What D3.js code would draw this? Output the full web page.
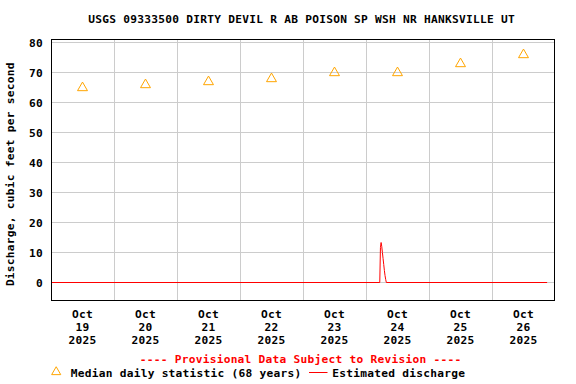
<!DOCTYPE html>
<html><head><meta charset="utf-8">
<script src="https://cdn.jsdelivr.net/npm/d3@7"></script>
<style>
html,body{margin:0;padding:0;background:#fff;}
text{font-family:"DejaVu Sans Mono","Liberation Mono",monospace;font-weight:bold;font-size:11.2px;letter-spacing:0.26px;}
</style></head>
<body><svg id="c" width="576" height="384"></svg>
<script>
const title = "USGS 09333500 DIRTY DEVIL R AB POISON SP WSH NR HANKSVILLE UT";
const yLabel = "Discharge, cubic feet per second";
const yTicks = [0, 10, 20, 30, 40, 50, 60, 70, 80];
const dayLabels = ["19", "20", "21", "22", "23", "24", "25", "26"];
const medianDays = ["2025-10-19T12:00Z","2025-10-20T12:00Z","2025-10-21T12:00Z","2025-10-22T12:00Z","2025-10-23T12:00Z","2025-10-24T12:00Z","2025-10-25T12:00Z","2025-10-26T12:00Z"];
const medianValues = [65, 66, 67, 68, 70, 70, 73, 76];
const dischargeTimes = ["2025-10-19T00:00Z","2025-10-24T05:15Z","2025-10-24T05:30Z","2025-10-24T05:45Z","2025-10-24T06:00Z","2025-10-24T06:15Z","2025-10-24T06:30Z","2025-10-24T06:45Z","2025-10-24T07:00Z","2025-10-24T07:15Z","2025-10-24T07:30Z","2025-10-24T07:45Z","2025-10-26T21:00Z"];
const dischargeValues = [0, 0, 11.8, 13.2, 12, 10, 8, 6, 4, 2.5, 1, 0, 0];

const svg = d3.select("#c");
const L = 51, R = 555, T = 39, B = 300;
const x = d3.scaleUtc().domain([new Date("2025-10-19T00:00Z"), new Date("2025-10-27T00:00Z")]).range([L, R]);
const y = d3.scaleLinear().domain([-6, 81]).range([B, T]);
const px = v => Math.round(v) + 0.5;

// grid
const g = svg.append("g");
yTicks.forEach(t => {
  g.append("line").attr("x1", L).attr("x2", R).attr("y1", px(y(t))).attr("y2", px(y(t)))
   .attr("stroke", "#cccccc").attr("stroke-width", 1);
});
const midnights = d3.utcDay.range(new Date("2025-10-20T00:00Z"), new Date("2025-10-27T00:00Z"));
midnights.forEach(d => {
  g.append("line").attr("x1", px(x(d))).attr("x2", px(x(d))).attr("y1", T).attr("y2", B)
   .attr("stroke", "#cccccc").attr("stroke-width", 1);
});

// discharge line
const dData = dischargeTimes.map((t, i) => ({t: new Date(t), v: dischargeValues[i]}));
svg.append("path").datum(dData)
  .attr("d", d3.line().x(d => x(d.t)).y(d => px(y(d.v))))
  .attr("fill", "none").attr("stroke", "#ff0000").attr("stroke-width", 1);

// median triangles
const tri = d3.symbol().type(d3.symbolTriangle).size(43);
medianDays.forEach((d, i) => {
  svg.append("path").attr("d", tri())
    .attr("transform", `translate(${x(new Date(d))},${y(medianValues[i]) + 0.8})`)
    .attr("fill", "none").attr("stroke", "#ffa500").attr("stroke-width", 1);
});

// frame
svg.append("rect").attr("x", L + 0.5).attr("y", T + 0.5).attr("width", R - L - 1).attr("height", B - T)
  .attr("fill", "none").attr("stroke", "#000").attr("stroke-width", 1);

// y tick labels
yTicks.forEach(t => {
  svg.append("text").attr("x", 43).attr("y", y(t) + 4.8).attr("text-anchor", "end").text(t);
});

// x tick labels
dayLabels.forEach((dl, i) => {
  const cx = x(new Date(medianDays[i]));
  const t = svg.append("text").attr("text-anchor", "middle");
  t.append("tspan").attr("x", cx).attr("y", 318).text("Oct");
  t.append("tspan").attr("x", cx).attr("y", 331).text(dl);
  t.append("tspan").attr("x", cx).attr("y", 343.5).text("2025");
});

// title
svg.append("text").attr("x", 88.3).attr("y", 23).text(title);

// y label
svg.append("text").attr("transform", "translate(14,174.2) rotate(-90)").attr("text-anchor", "middle")
  .text(yLabel);

// provisional
svg.append("text").attr("x", 139.7).attr("y", 362.5)
  .attr("fill", "#ff0000").text("---- Provisional Data Subject to Revision ----");

// legend
svg.append("path").attr("d", d3.symbol().type(d3.symbolTriangle).size(36)()).attr("transform", "translate(56.2,372)")
  .attr("fill", "none").attr("stroke", "#ffa500").attr("stroke-width", 1);
svg.append("text").attr("x", 70.7).attr("y", 376.7).text("Median daily statistic (68 years)");
svg.append("line").attr("x1", 309).attr("x2", 327.5).attr("y1", 372.5).attr("y2", 372.5)
  .attr("stroke", "#ff0000").attr("stroke-width", 1);
svg.append("text").attr("x", 332.3).attr("y", 376.7).text("Estimated discharge");
</script></body></html>
